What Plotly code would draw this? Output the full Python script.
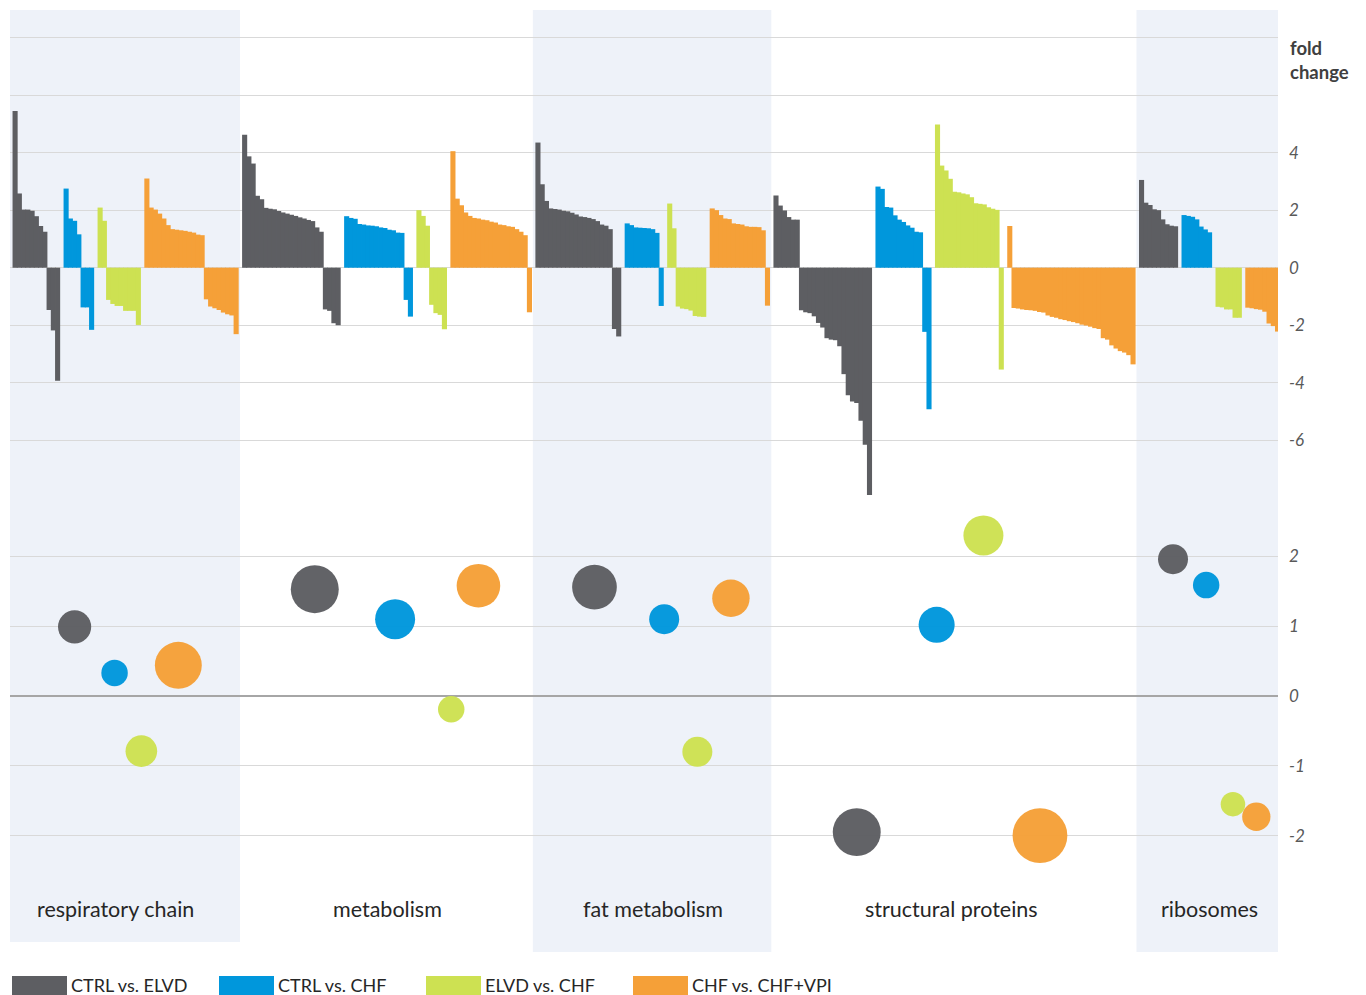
import plotly.graph_objects as go

# ---------------- data ----------------
CATEGORIES = ["respiratory chain", "metabolism", "fat metabolism", "structural proteins", "ribosomes"]
SERIES = ["CTRL vs. ELVD", "CTRL vs. CHF", "ELVD vs. CHF", "CHF vs. CHF+VPI"]
COLORS = ["#5d5e62", "#0097dc", "#cde152", "#f5a038"]

# fold change of individual proteins (sorted as in the picture)
resp_ctrl_elvd = [5.45, 2.58, 2.02, 2.02, 1.98, 1.79, 1.45, 1.25, -1.47, -2.18, -3.93]
resp_ctrl_chf = [2.75, 1.71, 1.63, 1.16, -1.38, -1.38, -2.16]
resp_elvd_chf = [2.09, 1.63, -1.12, -1.26, -1.33, -1.33, -1.50, -1.50, -1.50, -1.99]
resp_chf_vpi = [3.10, 2.09, 2.02, 1.88, 1.71, 1.48, 1.34, 1.32, 1.30, 1.28, 1.25, 1.22, 1.15, 1.13,
                -1.10, -1.35, -1.41, -1.47, -1.56, -1.62, -1.66, -2.31]

metab_ctrl_elvd = [4.62, 3.87, 3.62, 2.50, 2.38, 2.08, 2.05, 2.03, 1.97, 1.92, 1.88, 1.84, 1.80, 1.75,
                   1.71, 1.66, 1.62, 1.40, 1.25, -1.45, -1.50, -1.93, -2.00]
metab_ctrl_chf = [1.79, 1.73, 1.70, 1.52, 1.50, 1.47, 1.46, 1.44, 1.40, 1.38, 1.32, 1.30, 1.22, 1.21,
                  -1.12, -1.70]
metab_elvd_chf = [2.00, 1.80, 1.46, -1.29, -1.58, -1.64, -2.14]
metab_chf_vpi = [4.05, 2.40, 2.17, 1.92, 1.80, 1.73, 1.71, 1.67, 1.65, 1.60, 1.57, 1.50, 1.48, 1.44,
                 1.42, 1.34, 1.25, 1.13, -1.55]

fat_ctrl_elvd = [4.35, 2.90, 2.32, 2.06, 2.04, 2.02, 1.98, 1.96, 1.91, 1.85, 1.78, 1.76, 1.73, 1.69,
                 1.62, 1.50, 1.46, 1.34, -2.13, -2.39]
fat_ctrl_chf = [1.54, 1.48, 1.40, 1.39, 1.38, 1.37, 1.34, 1.21, -1.33]
fat_elvd_chf = [2.23, 1.37, -1.35, -1.42, -1.44, -1.49, -1.68, -1.70, -1.71]
fat_chf_vpi = [2.06, 2.00, 1.83, 1.71, 1.69, 1.54, 1.52, 1.50, 1.44, 1.42, 1.42, 1.41, 1.30, -1.32]

struct_ctrl_elvd = [2.51, 2.16, 1.99, 1.76, 1.67, 1.67, -1.48, -1.55, -1.58, -1.69, -1.92, -2.08,
                    -2.45, -2.50, -2.52, -2.73, -3.70, -4.43, -4.65, -4.70, -5.32, -6.15, -7.90]
struct_ctrl_chf = [2.82, 2.74, 2.11, 2.09, 1.82, 1.67, 1.59, 1.47, 1.39, 1.25, 1.23, -2.23, -4.92]
struct_elvd_chf = [4.98, 3.55, 3.38, 3.09, 2.64, 2.62, 2.58, 2.55, 2.45, 2.24, 2.22, 2.20, 2.10,
                   2.05, 2.01, -3.54]
struct_chf_vpi = [1.45, -1.40, -1.42, -1.45, -1.47, -1.48, -1.50, -1.54, -1.56, -1.66, -1.71,
                  -1.74, -1.79, -1.82, -1.86, -1.89, -1.93, -1.98, -2.01, -2.05, -2.10,
                  -2.13, -2.45, -2.50, -2.70, -2.81, -2.90, -2.95, -3.04, -3.36]

ribo_ctrl_elvd = [3.05, 2.26, 2.18, 2.03, 2.00, 1.68, 1.51, 1.46, 1.44]
ribo_ctrl_chf = [1.83, 1.80, 1.77, 1.68, 1.43, 1.33, 1.23]
ribo_elvd_chf = [-1.36, -1.38, -1.45, -1.45, -1.74, -1.74]
ribo_chf_vpi = [-1.39, -1.41, -1.44, -1.46, -1.53, -1.94, -2.03, -2.22]

# bubbles: mean fold change (y), number of proteins (size), horizontal position (slot units)
bubble_y_ctrl_elvd = [0.99, 1.53, 1.56, -1.95, 1.96]
bubble_y_ctrl_chf = [0.33, 1.10, 1.10, 1.02, 1.59]
bubble_y_elvd_chf = [-0.79, -0.19, -0.80, 2.30, -1.55]
bubble_y_chf_vpi = [0.44, 1.58, 1.40, -2.00, -1.73]

bubble_n_ctrl_elvd = [11, 23, 20, 23, 9]
bubble_n_ctrl_chf = [7, 16, 9, 13, 7]
bubble_n_elvd_chf = [10, 7, 9, 16, 6]
bubble_n_chf_vpi = [22, 19, 14, 30, 8]

bubble_x_ctrl_elvd = [14.0, 70.5, 136.3, 198.0, 272.4]
bubble_x_ctrl_chf = [23.4, 89.4, 152.7, 216.8, 280.2]
bubble_x_elvd_chf = [29.7, 102.6, 160.5, 227.8, 286.5]
bubble_x_chf_vpi = [38.4, 109.0, 168.4, 241.1, 292.0]

TOP_TICKS = [-6, -4, -2, 0, 2, 4, 6, 8]
TOP_TICK_TEXT = ["-6", "-4", "-2", "0", "2", "4", "", ""]
BOTTOM_TICKS = [-2, -1, 0, 1, 2]
BOTTOM_TICK_TEXT = ["-2", "-1", "0", "1", "2"]

BARS = [
    [resp_ctrl_elvd, resp_ctrl_chf, resp_elvd_chf, resp_chf_vpi],
    [metab_ctrl_elvd, metab_ctrl_chf, metab_elvd_chf, metab_chf_vpi],
    [fat_ctrl_elvd, fat_ctrl_chf, fat_elvd_chf, fat_chf_vpi],
    [struct_ctrl_elvd, struct_ctrl_chf, struct_elvd_chf, struct_chf_vpi],
    [ribo_ctrl_elvd, ribo_ctrl_chf, ribo_elvd_chf, ribo_chf_vpi],
]
BUBBLE_X = [bubble_x_ctrl_elvd, bubble_x_ctrl_chf, bubble_x_elvd_chf, bubble_x_chf_vpi]
BUBBLE_Y = [bubble_y_ctrl_elvd, bubble_y_ctrl_chf, bubble_y_elvd_chf, bubble_y_chf_vpi]
BUBBLE_N = [bubble_n_ctrl_elvd, bubble_n_ctrl_chf, bubble_n_elvd_chf, bubble_n_chf_vpi]

# ---------------- layout geometry ----------------
OFF = 8                      # default page margin of the html body
W, H = 1366 - OFF, 995 - OFF
ML, MR, MT, MB = 2, 88, 2, 43
PW, PH = W - ML - MR, H - MT - MB
PLOT_LEFT, PLOT_BOTTOM = OFF + ML, OFF + H - MB
FONT = "Lato, 'Open Sans', sans-serif"
SHADE = "#eef2f9"
GRID = "#d9d9d9"


def px_x(p):
    return (p - PLOT_LEFT) / PW


def px_y(p):
    return (PLOT_BOTTOM - p) / PH


# ---------------- bar positions ----------------
bar_x = [[] for _ in SERIES]
bar_y = [[] for _ in SERIES]
cat_span = []
pos = 0
for ci in range(len(CATEGORIES)):
    start = pos
    for si in range(len(SERIES)):
        vals = BARS[ci][si]
        bar_x[si].extend(range(pos, pos + len(vals)))
        bar_y[si].extend(vals)
        pos += len(vals) + 1
    cat_span.append((start, pos - 2))

x_min = -1.2
x_max = cat_span[-1][1] + 0.1

fig = go.Figure()

for si, name in enumerate(SERIES):
    fig.add_trace(go.Bar(
        x=bar_x[si], y=bar_y[si], width=1.2, name=name,
        marker=dict(color=COLORS[si], line=dict(width=0)),
        xaxis="x", yaxis="y", showlegend=False,
    ))

for si, name in enumerate(SERIES):
    fig.add_trace(go.Scatter(
        x=BUBBLE_X[si], y=BUBBLE_Y[si], mode="markers", name=name,
        marker=dict(size=BUBBLE_N[si], sizemode="area", sizeref=0.02,
                    color=COLORS[si], line=dict(width=0), opacity=0.97),
        xaxis="x", yaxis="y2", showlegend=False,
    ))

# shaded category bands (1st, 3rd, 5th)
shapes = []
band_bottom_px = {0: 942, 2: 952, 4: 952}
for ci in (0, 2, 4):
    s, e = cat_span[ci]
    x0 = max(s - 1.2, x_min)
    x1 = min(e + 0.9, x_max)
    shapes.append(dict(type="rect", xref="x", yref="paper", x0=x0, x1=x1,
                       y0=px_y(band_bottom_px[ci]), y1=1.0,
                       fillcolor=SHADE, line=dict(width=0), layer="below"))

# legend swatches
legend_px = [12, 219, 426, 633]
annotations = []
for si, name in enumerate(SERIES):
    x0 = legend_px[si]
    shapes.append(dict(type="rect", xref="paper", yref="paper",
                       x0=px_x(x0), x1=px_x(x0 + 55), y0=px_y(996), y1=px_y(976),
                       fillcolor=COLORS[si], line=dict(width=0), layer="above"))
    annotations.append(dict(text=name, xref="paper", yref="paper",
                            x=px_x(x0 + 57), y=px_y(985), xanchor="left", yanchor="middle",
                            showarrow=False, font=dict(family=FONT, size=18, color="#262626")))

# category labels
label_x = [23.7, 87.5, 150.0, 220.3, 281.0]
for ci, cat in enumerate(CATEGORIES):
    annotations.append(dict(text=cat, xref="x", yref="paper", x=label_x[ci], y=px_y(909),
                            xanchor="center", yanchor="middle", showarrow=False,
                            font=dict(family=FONT, size=21.5, color="#262626")))

annotations.append(dict(text="<b>fold<br>change</b>", xref="paper", yref="paper",
                        x=px_x(1288), y=px_y(60), xanchor="left", yanchor="middle",
                        align="left", showarrow=False,
                        font=dict(family=FONT, size=18.5, color="#404040")))

# axes ranges from pixel calibration
top_px0, top_scale = 267.7, 28.77
bot_px0, bot_scale = 696.0, 69.8
split_px = 500
top_range = [(top_px0 - split_px) / top_scale, (top_px0 - (OFF + MT)) / top_scale]
bot_range = [(bot_px0 - PLOT_BOTTOM) / bot_scale, (bot_px0 - split_px) / bot_scale]
split = px_y(split_px)

tickfont = dict(family=FONT, size=17, color="#595959", style="italic")

fig.update_layout(
    width=W, height=H,
    margin=dict(l=ML, r=MR, t=MT, b=MB),
    paper_bgcolor="white", plot_bgcolor="rgba(0,0,0,0)",
    barmode="overlay",
    showlegend=False,
    font=dict(family=FONT),
    shapes=shapes,
    annotations=annotations,
    xaxis=dict(range=[x_min, x_max], showticklabels=False, showgrid=False,
               zeroline=False, showline=False, fixedrange=True, automargin=False),
    yaxis=dict(domain=[split, 1.0], range=top_range, side="right", anchor="x",
               tickvals=TOP_TICKS, ticktext=TOP_TICK_TEXT, showgrid=True,
               gridcolor=GRID, gridwidth=1, zeroline=False, showline=False,
               ticks="", ticklabelstandoff=10, tickfont=tickfont, automargin=False),
    yaxis2=dict(domain=[0.0, split], range=bot_range, side="right", anchor="x",
                tickvals=BOTTOM_TICKS, ticktext=BOTTOM_TICK_TEXT, showgrid=True,
                gridcolor=GRID, gridwidth=1,
                zeroline=True, zerolinecolor="#a6a6a6", zerolinewidth=1.5,
                showline=False, ticks="", ticklabelstandoff=10, tickfont=tickfont,
                automargin=False),
)

fig.write_html("out.html")
